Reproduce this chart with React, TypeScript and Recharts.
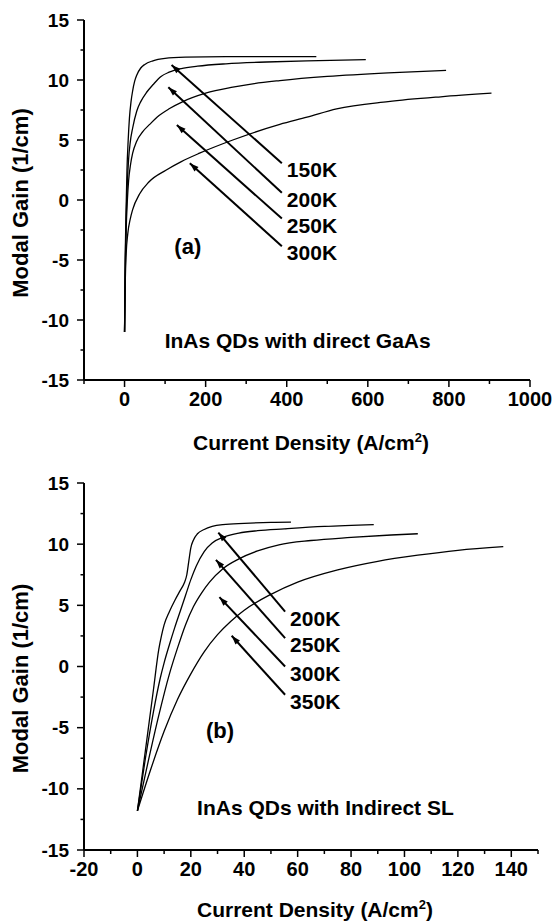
import { LineChart, Line, XAxis, YAxis, ReferenceDot } from "recharts"

const FONT = "'Liberation Sans', Arial, Helvetica, sans-serif"

type P = [number, number]
const toXY = (arr: P[]) => arr.map(([x, y]) => ({ x, y }))

// ---- panel (a): InAs QDs with direct GaAs ----
const gainA150K: P[] = [[0, -11], [1, -7], [2, -4], [4, -0.5], [6, 2.5], [9, 5], [12, 6.8], [16, 8.2], [20, 9.1], [25, 9.9], [30, 10.4], [40, 11], [50, 11.3], [70, 11.6], [100, 11.8], [150, 11.9], [250, 11.95], [350, 11.95], [473, 11.95]]
const gainA200K: P[] = [[0, -11], [1, -7.5], [2, -4.8], [4, -1.5], [7, 1.5], [10, 3.4], [14, 4.8], [20, 6.0], [30, 7.4], [40, 8.2], [55, 9.0], [70, 9.6], [90, 10.3], [110, 10.65], [140, 10.95], [180, 11.15], [250, 11.35], [350, 11.5], [450, 11.6], [595, 11.7]]
const gainA250K: P[] = [[0, -11], [1, -8], [2, -5.5], [4, -2.5], [7, 0], [10, 1.6], [15, 3.0], [20, 3.9], [30, 4.9], [45, 5.7], [62, 6.3], [80, 6.9], [110, 7.6], [144, 8.2], [200, 8.9], [267, 9.4], [320, 9.7], [383, 9.95], [500, 10.3], [650, 10.6], [793, 10.8]]
const gainA300K: P[] = [[0, -11], [1, -8.5], [2, -6.5], [4, -4.5], [8, -2.8], [14, -1.6], [20, -0.8], [37, 0.5], [60, 1.5], [103, 2.5], [140, 3.2], [185, 3.9], [267, 5.0], [383, 6.3], [450, 6.9], [523, 7.6], [650, 8.2], [780, 8.6], [905, 8.9]]
const tempsA = ["150K", "200K", "250K", "300K"]
const arrowHeadsA: P[] = [[116, 11.25], [108, 9.4], [129, 6.25], [161, 3.06]]
const arrowTailsA: P[] = [[388, 3.06], [388, 0.6], [388, -1.55], [388, -3.85]]
const xTicksA = [-100, 0, 100, 200, 300, 400, 500, 600, 700, 800, 900, 1000]

// ---- panel (b): InAs QDs with Indirect SL ----
const gainB200K: P[] = [[0, -11.8], [2, -8.5], [4, -5.2], [6, -1.9], [8, 1.4], [9, 2.5], [10, 3.4], [12, 4.5], [14, 5.4], [16, 6.2], [17.5, 6.8], [18.5, 7.5], [19.3, 8.7], [20, 9.7], [21, 10.35], [22.5, 10.85], [25, 11.2], [28, 11.45], [32, 11.6], [40, 11.7], [50, 11.78], [57.5, 11.8]]
const gainB250K: P[] = [[0, -11.8], [3, -7.5], [6, -3.7], [8.5, -1.0], [10, 0.3], [12, 1.8], [14, 3.2], [16, 4.5], [18, 5.8], [20, 7.1], [22, 8.2], [25, 9.4], [28, 10.1], [32, 10.55], [38, 10.9], [45, 11.1], [55, 11.25], [70, 11.45], [88.5, 11.6]]
const gainB300K: P[] = [[0, -11.8], [4, -7.8], [8, -4.0], [12, -0.6], [15, 1.5], [18, 3.4], [21, 4.9], [24, 6.0], [27, 6.9], [32, 8.0], [38, 8.8], [45, 9.45], [53, 9.95], [65, 10.3], [80, 10.55], [95, 10.75], [105, 10.85]]
const gainB350K: P[] = [[0, -11.8], [5, -8.4], [10, -5.3], [15, -2.7], [20, -0.6], [25, 1.2], [30, 2.6], [35, 3.7], [40, 4.6], [50, 5.9], [60, 6.9], [75, 7.9], [90, 8.6], [105, 9.1], [120, 9.5], [137, 9.8]]
const tempsB = ["200K", "250K", "300K", "350K"]
const arrowHeadsB: P[] = [[30.3, 10.95], [29.4, 8.72], [30.7, 5.67], [35.3, 2.51]]
const arrowTailsB: P[] = [[55.3, 4.49], [55.3, 2.32], [55.3, 0], [55.3, -2.31]]
const xTicksB = [-20, -10, 0, 10, 20, 30, 40, 50, 60, 70, 80, 90, 100, 110, 120, 130, 140, 150]

const yTicks = [-15, -12.5, -10, -7.5, -5, -2.5, 0, 2.5, 5, 7.5, 10, 12.5, 15]

const W = 553
const H = 462

const bold = { fontFamily: FONT, fontWeight: "bold" as const, fill: "#000" }

const makeXTick = (step: number) => (props: any) => {
  const { x, y, payload } = props
  const v = payload.value
  const major = v % step === 0 && (step !== 200 || v >= 0)
  return (
    <g>
      <line x1={x} x2={x} y1={y} y2={y + (major ? 7 : 4)} stroke="#000" strokeWidth={1.5} />
      {major && (
        <text x={x} y={y + 26} textAnchor="middle" fontSize={20} {...bold}>
          {v}
        </text>
      )}
    </g>
  )
}

const YTick = (props: any) => {
  const { x, y, payload } = props
  const v = payload.value
  const major = v % 5 === 0
  return (
    <g>
      <line x1={x - (major ? 7 : 3.5)} x2={x} y1={y} y2={y} stroke="#000" strokeWidth={1.5} />
      {major && (
        <text x={x - 15} y={y + 6.5} textAnchor="end" fontSize={19} {...bold}>
          {v}
        </text>
      )}
    </g>
  )
}

const xTitle = (dy: number) => (props: any) => {
  const { x, y, width } = props.viewBox
  return (
    <text x={x + width / 2 + 4} y={y + dy} textAnchor="middle" fontSize={21} {...bold}>
      <tspan>Current Density (A/cm</tspan>
      <tspan dy={-8} fontSize={13}>2</tspan>
      <tspan dy={8}>)</tspan>
    </text>
  )
}

const yTitle = (dy: number) => (props: any) => {
  const { y, height } = props.viewBox
  const cy = y + height / 2 + dy
  return (
    <text x={0} y={0} transform={`translate(28, ${cy}) rotate(-90)`} textAnchor="middle" fontSize={22} {...bold}>
      Modal Gain (1/cm)
    </text>
  )
}

type PanelProps = {
  curves: P[][]
  heads: P[]
  tails: P[]
  temps: string[]
  xDomain: [number, number]
  xTicks: number[]
  xStep: number
  margin: { top: number; right: number; bottom: number; left: number }
  tag: string
  tagAt: P
  note: string
  noteAt: P
  xTitleDy: number
  yTitleDy: number
}

function Panel(p: PanelProps) {
  // axes take 1px each (a zero-size axis is not drawn)
  const plotW = W - p.margin.left - 1 - p.margin.right
  const plotH = H - p.margin.top - p.margin.bottom - 1
  const sx = plotW / (p.xDomain[1] - p.xDomain[0])
  const sy = plotH / 30

  const arrowDot = (i: number) => (d: any) => {
    const { cx, cy, index } = d
    if (index === 0) {
      const dx = (p.heads[i][0] - p.tails[i][0]) * sx
      const dy = -(p.heads[i][1] - p.tails[i][1]) * sy
      const len = Math.hypot(dx, dy)
      const ux = dx / len
      const uy = dy / len
      const L = 9
      const hw = 3
      const bx = cx - ux * L
      const by = cy - uy * L
      return (
        <polygon
          key={`h${i}`}
          points={`${cx},${cy} ${bx - uy * hw},${by + ux * hw} ${bx + uy * hw},${by - ux * hw}`}
          fill="#000"
        />
      )
    }
    return (
      <text key={`t${i}`} x={cx + 5} y={cy + 14} fontSize={21} {...bold}>
        {p.temps[i]}
      </text>
    )
  }

  const textShape = (s: string, size: number) => (d: any) => (
    <text x={d.cx} y={d.cy + size * 0.36} textAnchor="middle" fontSize={size} {...bold}>
      {s}
    </text>
  )

  return (
    <LineChart width={W} height={H} margin={p.margin}>
      <XAxis
        dataKey="x"
        type="number"
        domain={p.xDomain}
        ticks={p.xTicks}
        interval={0}
        height={1}
        tickSize={0}
        tickMargin={0}
        tickLine={false}
        tick={makeXTick(p.xStep)}
        axisLine={{ stroke: "#000", strokeWidth: 2 }}
        allowDataOverflow
        label={{ content: xTitle(p.xTitleDy) }}
      />
      <YAxis
        dataKey="y"
        type="number"
        domain={[-15, 15]}
        ticks={yTicks}
        interval={0}
        width={1}
        tickSize={0}
        tickMargin={0}
        tickLine={false}
        tick={YTick}
        axisLine={{ stroke: "#000", strokeWidth: 2 }}
        allowDataOverflow
        label={{ content: yTitle(p.yTitleDy) }}
      />
      {p.curves.map((c, i) => (
        <Line
          key={`c${i}`}
          data={toXY(c)}
          dataKey="y"
          type="monotone"
          stroke="#000"
          strokeWidth={1.3}
          dot={false}
          activeDot={false}
          isAnimationActive={false}
        />
      ))}
      {p.heads.map((h, i) => (
        <Line
          key={`a${i}`}
          data={toXY([h, p.tails[i]])}
          dataKey="y"
          type="linear"
          stroke="#000"
          strokeWidth={2}
          dot={arrowDot(i)}
          activeDot={false}
          isAnimationActive={false}
        />
      ))}
      <ReferenceDot x={p.tagAt[0]} y={p.tagAt[1]} r={0} shape={textShape(p.tag, 22)} />
      <ReferenceDot x={p.noteAt[0]} y={p.noteAt[1]} r={0} shape={textShape(p.note, 21)} />
    </LineChart>
  )
}

export default function App() {
  return (
    <div style={{ position: "absolute", left: 0, top: 0, width: W, height: 924, background: "#fff" }}>
      <Panel
        curves={[gainA150K, gainA200K, gainA250K, gainA300K]}
        heads={arrowHeadsA}
        tails={arrowTailsA}
        temps={tempsA}
        xDomain={[-100, 1000]}
        xTicks={xTicksA}
        xStep={200}
        margin={{ top: 20, right: 23, bottom: 81, left: 83 }}
        tag="(a)"
        tagAt={[156, -3.83]}
        note="InAs QDs with direct GaAs"
        noteAt={[427, -11.67]}
        xTitleDy={70}
        yTitleDy={3}
      />
      <Panel
        curves={[gainB200K, gainB250K, gainB300K, gainB350K]}
        heads={arrowHeadsB}
        tails={arrowTailsB}
        temps={tempsB}
        xDomain={[-20, 150]}
        xTicks={xTicksB}
        xStep={20}
        margin={{ top: 21, right: 15, bottom: 73, left: 83 }}
        tag="(b)"
        tagAt={[30.9, -5.2]}
        note="InAs QDs with Indirect SL"
        noteAt={[70.4, -11.54]}
        xTitleDy={67}
        yTitleDy={12}
      />
    </div>
  )
}
